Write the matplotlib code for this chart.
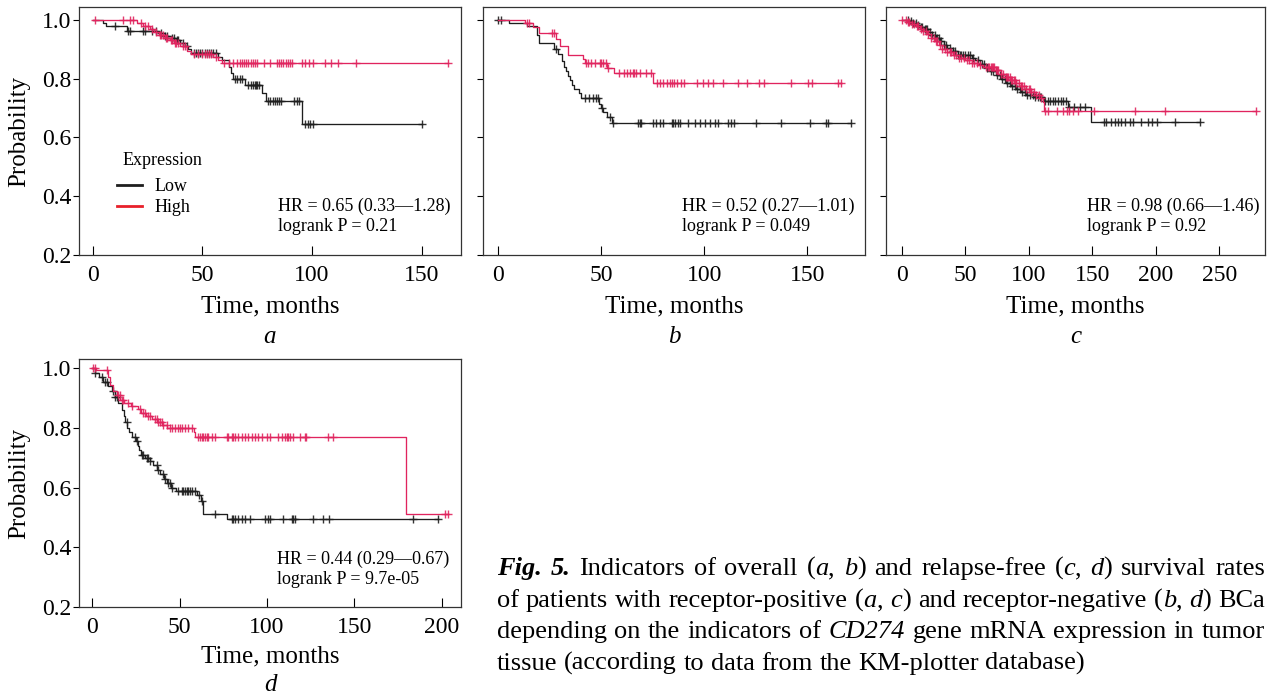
import re

import numpy as np
import matplotlib
matplotlib.use("Agg")
import matplotlib.pyplot as plt
from matplotlib.lines import Line2D

plt.rcParams["font.family"] = ["Liberation Serif", "DejaVu Serif"]

LOW = "#1e1e1e"
HIGH = "#e0245e"
W, H = 1270, 698

# panel a - overall survival, receptor-positive
a_low_t = [4.5, 6, 15.5, 30, 33, 36, 38, 40, 42, 43.5, 45, 57, 59, 62, 63, 64, 69.5, 77, 79, 95.5]
a_low_s = [0.99, 0.978, 0.963, 0.955, 0.947, 0.938, 0.93, 0.92, 0.91, 0.90, 0.887, 0.875, 0.862,
           0.84, 0.82, 0.80, 0.778, 0.75, 0.725, 0.645]
a_low_cens = [10, 16, 17, 23, 24, 27, 29, 31, 33, 34, 36, 37, 38.5, 39, 41, 43, 46, 47, 48, 49, 50,
              51, 52, 53, 54, 55, 56, 65, 66, 67, 68, 71, 72, 73, 74, 74.5, 75, 76, 80, 81, 82, 83,
              84, 85, 86, 92, 93, 94, 97, 98, 99, 100.5, 150]
a_high_t = [20, 23, 26, 28, 30, 33, 35, 37, 40, 43, 45, 55, 57, 59]
a_high_s = [0.99, 0.98, 0.97, 0.96, 0.95, 0.94, 0.93, 0.92, 0.91, 0.895, 0.885, 0.875, 0.865, 0.853]
a_high_cens = [1, 14, 17, 18.5, 22, 24, 25, 27, 29, 30.5, 31, 32, 33.5, 34, 35.5, 36, 37.5, 38, 39,
               41, 42, 46, 48, 50, 51, 52, 53, 54, 56, 60, 62, 64, 66, 67, 68, 69, 70, 71, 72, 73,
               74, 75, 78, 81, 84, 85, 86, 87, 88, 89, 90, 91, 95.5, 97, 98.5, 100.5, 106, 108.5,
               112, 120, 162]

# panel b - overall survival, receptor-negative
b_low_t = [5, 14, 19, 20, 27, 29, 31, 32, 33, 34, 35, 36, 37, 39, 40, 49, 50, 51, 53, 55]
b_low_s = [0.99, 0.978, 0.95, 0.92, 0.90, 0.885, 0.86, 0.84, 0.825, 0.81, 0.795, 0.78, 0.765,
           0.75, 0.735, 0.715, 0.70, 0.685, 0.668, 0.65]
b_low_cens = [0, 1.5, 28, 42, 44, 46, 47.5, 48.5, 50.5, 54, 55.5, 68, 68.8, 69.2, 75.2, 76.8, 78.4,
              80, 84.1, 84.8, 85.6, 87.2, 88.2, 92.1, 95.4, 97.8, 100.2, 102.7, 105.1, 106.7,
              111.5, 113.1, 114.6, 125.2, 137.3, 151.1, 159.2, 160, 171.3]
b_high_t = [13, 17, 20, 28, 30, 34, 41, 42, 53, 56, 75]
b_high_s = [0.99, 0.975, 0.955, 0.935, 0.91, 0.882, 0.866, 0.852, 0.838, 0.818, 0.786]
b_high_cens = [14, 15, 26, 27, 42.5, 43.6, 45.2, 46.8, 49.3, 50.1, 50.9, 52.5, 53.3, 58.5, 60.9,
               62.5, 64.1, 65.3, 66.1, 66.9, 69, 71.5, 73.9, 76.9, 78.5, 80.1, 81.7, 83.3, 84.2,
               85.3, 86.9, 88.5, 90.1, 96.6, 99.5, 101.9, 104.4, 108.9, 116.2, 120.9, 126.7, 129.1,
               142.1, 150.2, 152.1, 164.8, 166.4]

# panel c - relapse-free survival, receptor-positive
c_low_t = [6, 9, 12, 15, 18, 21, 24, 27, 30, 33, 36, 40, 44, 55, 58, 62, 66, 70, 74, 78, 82, 86,
           90, 94, 98, 104, 112, 131, 149]
c_low_s = [0.995, 0.99, 0.983, 0.975, 0.968, 0.96, 0.95, 0.94, 0.928, 0.915, 0.905, 0.893, 0.882,
           0.872, 0.862, 0.85, 0.838, 0.825, 0.812, 0.80, 0.787, 0.775, 0.765, 0.755, 0.745,
           0.738, 0.725, 0.703, 0.652]
c_low_cens = [5, 7, 9, 11, 13, 15, 16, 18, 19, 20, 22, 24, 26, 28, 29, 31, 33, 35, 38, 40, 42, 44,
              46, 47, 48, 50, 52, 54, 56, 60, 63, 65, 67, 70, 72, 75, 77, 79, 81, 83, 85, 87, 89,
              91, 93, 95, 97, 99, 101, 103, 105, 107, 109, 110, 113, 115, 117, 119, 121, 123, 125,
              127, 129, 132, 136, 140, 144, 159, 161, 165, 168, 170, 173, 176, 180, 182, 188, 194,
              197, 201, 215, 235]
c_high_t = [4, 8, 11, 14, 17, 20, 23, 26, 29, 32, 36, 40, 45, 50, 55, 60, 64, 74, 78, 82, 86, 90,
            94, 98, 102, 106, 110, 111, 112]
c_high_s = [0.993, 0.985, 0.978, 0.97, 0.962, 0.953, 0.94, 0.928, 0.915, 0.902, 0.89, 0.88, 0.87,
            0.862, 0.855, 0.845, 0.84, 0.83, 0.815, 0.805, 0.795, 0.785, 0.775, 0.765, 0.755,
            0.745, 0.733, 0.72, 0.69]
c_high_cens = [0, 3, 5, 6, 8, 10, 12, 13, 15, 17, 19, 21, 23, 25, 27, 28, 30, 32, 34, 36, 38, 39,
               41, 43, 45, 47, 49, 51, 53, 55, 57, 59, 62, 66, 68, 69, 70, 71, 72, 73, 74, 75, 76,
               78, 80, 82, 83, 84, 85, 86, 87, 88, 89, 90, 92, 94, 95, 96, 98, 100, 101, 102, 104,
               106, 108, 110, 113, 115, 122, 127, 130, 132, 135, 139, 151, 184, 207, 279]

# panel d - relapse-free survival, receptor-negative
d_low_t = [1.5, 4, 6, 9, 11, 13, 15, 17, 18, 19, 20, 21, 23, 25, 26, 27, 28, 30, 33, 35, 37, 39,
           41, 43, 45, 48, 60, 62, 63.5, 77]
d_low_s = [0.985, 0.97, 0.955, 0.94, 0.925, 0.905, 0.885, 0.86, 0.84, 0.82, 0.80, 0.785, 0.77,
           0.755, 0.74, 0.725, 0.71, 0.70, 0.69, 0.675, 0.66, 0.645, 0.63, 0.615, 0.60, 0.59,
           0.575, 0.555, 0.512, 0.494]
d_low_cens = [1.5, 5.4, 7.3, 8.2, 12, 13, 13.9, 19.7, 24.4, 25.4, 28.3, 29.2, 31.1, 32, 33, 36.8,
              37.8, 40.6, 41.6, 43.5, 44.5, 45.4, 49.2, 51.1, 52.1, 53, 54, 55, 55.9, 56.9, 58.8,
              61, 63, 70, 79.8, 80.7, 81.7, 83.6, 85.5, 87.4, 90.2, 98.8, 100.8, 101.7, 109.3,
              114.1, 115.1, 116, 126.2, 131.9, 135.7, 183.4, 197.7]
d_high_t = [2, 9, 10, 12, 14, 16, 18, 22, 26, 28, 31, 34, 37, 40, 43, 58, 59, 179.5]
d_high_s = [0.995, 0.97, 0.945, 0.925, 0.91, 0.895, 0.885, 0.875, 0.862, 0.85, 0.84, 0.83, 0.82,
            0.81, 0.80, 0.785, 0.768, 0.511]
d_high_cens = [0.6, 1.5, 8.2, 14.9, 15.8, 16.8, 17.8, 20.6, 22.5, 27.3, 29.2, 30.2, 32, 33, 35.9,
               36.8, 37.8, 38.7, 39.7, 40.6, 42.6, 44.5, 45.4, 47.3, 49.2, 50.2, 51.1, 53, 55,
               56.9, 60.7, 61.6, 62.6, 63.5, 64.5, 65.5, 66.4, 68.3, 70.2, 76.9, 77.9, 79.8, 80.7,
               81.7, 83.6, 85.5, 87.4, 89.3, 91.2, 93.1, 95, 96.9, 99.8, 101.7, 106.5, 108.4,
               110.3, 111.3, 112.2, 113.2, 115.1, 118.9, 121.8, 122.3, 135, 137.6, 201.9, 203.8]

hr_a = "HR = 0.65 (0.33\u20141.28)\nlogrank P = 0.21"
hr_b = "HR = 0.52 (0.27\u20141.01)\nlogrank P = 0.049"
hr_c = "HR = 0.98 (0.66\u20141.46)\nlogrank P = 0.92"
hr_d = "HR = 0.44 (0.29\u20140.67)\nlogrank P = 9.7e-05"

caption = [
    "#Fig.# #5.# Indicators of overall (_a_, _b_) and relapse-free (_c_, _d_) survival rates",
    "of patients with receptor-positive (_a_, _c_) and receptor-negative (_b_, _d_) BCa",
    "depending on the indicators of _CD274_ gene mRNA expression in tumor",
    "tissue (according to data from the KM-plotter database)",
]


def km(ax, t, s, cens, color):
    tt = np.r_[0.0, t]
    ss = np.r_[1.0, s]
    t_end = max(max(cens), tt[-1])
    ax.step(np.r_[tt, t_end], np.r_[ss, ss[-1]], where="post", color=color, lw=0.95)
    c = np.asarray(cens, dtype=float)
    cy = ss[np.searchsorted(tt, c, side="right") - 1]
    ax.plot(c, cy, "+", color=color, ms=6, mew=1.0, alpha=0.9)


def style_axes(ax, xlim, xticks, ytop, left_labels):
    ax.set_xlim(*xlim)
    ax.set_ylim(0.2, ytop)
    ax.set_xticks(xticks)
    ax.set_yticks([0.2, 0.4, 0.6, 0.8, 1.0])
    if left_labels:
        ax.set_yticklabels(["0.2", "0.4", "0.6", "0.8", "1.0"])
        ax.set_ylabel("Probability", fontsize=18)
        ax.yaxis.set_label_coords(-0.127, 0.5)
    else:
        ax.tick_params(axis="y", labelleft=False)
    ax.tick_params(axis="y", direction="out", length=4.5, width=0.8, pad=1, labelsize=17)
    ax.tick_params(axis="x", direction="in", length=6.5, width=0.8, pad=7, labelsize=17)
    ax.set_xlabel("Time, months", fontsize=18)
    for sp in ax.spines.values():
        sp.set_linewidth(0.9)
        sp.set_color("#333333")


fig = plt.figure(figsize=(W / 100, H / 100), dpi=100)


def add_axes(x0, y0, x1, y1):
    return fig.add_axes([x0 / W, 1 - y1 / H, (x1 - x0) / W, (y1 - y0) / H])


ax_a = add_axes(79, 7, 461, 255)
ax_b = add_axes(483, 7, 865, 255)
ax_c = add_axes(886, 7, 1265, 255)
ax_d = add_axes(79, 359, 461, 607)

panels = [
    (ax_a, a_low_t, a_low_s, a_low_cens, a_high_t, a_high_s, a_high_cens, (-6.3, 168),
     [0, 50, 100, 150], 1.044, True, hr_a, 0.522, "a"),
    (ax_b, b_low_t, b_low_s, b_low_cens, b_high_t, b_high_s, b_high_cens, (-7.4, 178),
     [0, 50, 100, 150], 1.044, False, hr_b, 0.520, "b"),
    (ax_c, c_low_t, c_low_s, c_low_cens, c_high_t, c_high_s, c_high_cens, (-12.4, 286),
     [0, 50, 100, 150, 200, 250], 1.044, False, hr_c, 0.530, "c"),
    (ax_d, d_low_t, d_low_s, d_low_cens, d_high_t, d_high_s, d_high_cens, (-7.6, 211),
     [0, 50, 100, 150, 200], 1.031, True, hr_d, 0.5175, "d"),
]

for ax, lt, ls, lc, ht, hs, hc, xlim, xticks, ytop, lab, hr, hx, letter in panels:
    km(ax, lt, ls, lc, LOW)
    km(ax, ht, hs, hc, HIGH)
    style_axes(ax, xlim, xticks, ytop, lab)
    ax.text(hx, 0.232 if letter != "d" else 0.228, hr, transform=ax.transAxes, fontsize=13,
            va="top", ha="left", linespacing=1.25)
    ax.xaxis.set_label_coords(0.5, -0.165 if letter != "d" else -0.157)
    bb = ax.get_position()
    ly = 1 - 337 / H if letter != "d" else 1 - 685 / H
    fig.text(bb.x0 + bb.width / 2, ly, letter, fontsize=18, fontstyle="italic",
             ha="center", va="center")

ax_a.text(0.115, 0.38, "Expression", transform=ax_a.transAxes, fontsize=13,
          ha="left", va="center")
handles = [Line2D([], [], color=LOW, lw=2), Line2D([], [], color="#e8202a", lw=2)]
ax_a.legend(handles, ["Low", "High"], loc="upper left", bbox_to_anchor=(0.099, 0.311),
            frameon=False, fontsize=13, borderpad=0, borderaxespad=0, handlelength=1.4,
            handletextpad=0.7, labelspacing=0.22)

# caption, justified word by word
fig.canvas.draw()
renderer = fig.canvas.get_renderer()
STYLES = {
    "normal": {},
    "italic": {"fontstyle": "italic"},
    "bold": {"fontstyle": "italic", "fontweight": "bold"},
}


def parse(word):
    out, style = [], "normal"
    for piece in re.split(r"([_#])", word):
        if piece == "_":
            style = "normal" if style == "italic" else "italic"
        elif piece == "#":
            style = "normal" if style == "bold" else "bold"
        elif piece:
            out.append((piece, style))
    return out


def width(s, style, size):
    t = fig.text(0, 0, s, fontsize=size, **STYLES[style])
    w = t.get_window_extent(renderer).width
    t.remove()
    return w


cap_left, cap_right = 497, 1265
baselines = [575, 607, 638, 670]
lines = [[parse(w) for w in line.split(" ")] for line in caption]

size = 19.0
for _ in range(3):
    space = width("x x", "normal", size) - width("xx", "normal", size)
    natural = [sum(width(p, st, size) for wd in ln for p, st in wd) + 0.75 * space * (len(ln) - 1)
               for ln in lines[:-1]]
    widest = max(natural)
    if widest > (cap_right - cap_left):
        size *= (cap_right - cap_left) / widest * 0.998

space = width("x x", "normal", size) - width("xx", "normal", size)
for i, (ln, base) in enumerate(zip(lines, baselines)):
    wlist = [[(p, st, width(p, st, size)) for p, st in wd] for wd in ln]
    total = sum(w for wd in wlist for _, _, w in wd)
    if i < len(lines) - 1:
        gap = (cap_right - cap_left - total) / (len(ln) - 1)
    else:
        gap = space
    x = cap_left
    for wd in wlist:
        for p, st, w in wd:
            fig.text(x / W, 1 - base / H, p, fontsize=size, va="baseline", ha="left",
                     **STYLES[st])
            x += w
        x += gap

fig.savefig("out.png", dpi=100)
